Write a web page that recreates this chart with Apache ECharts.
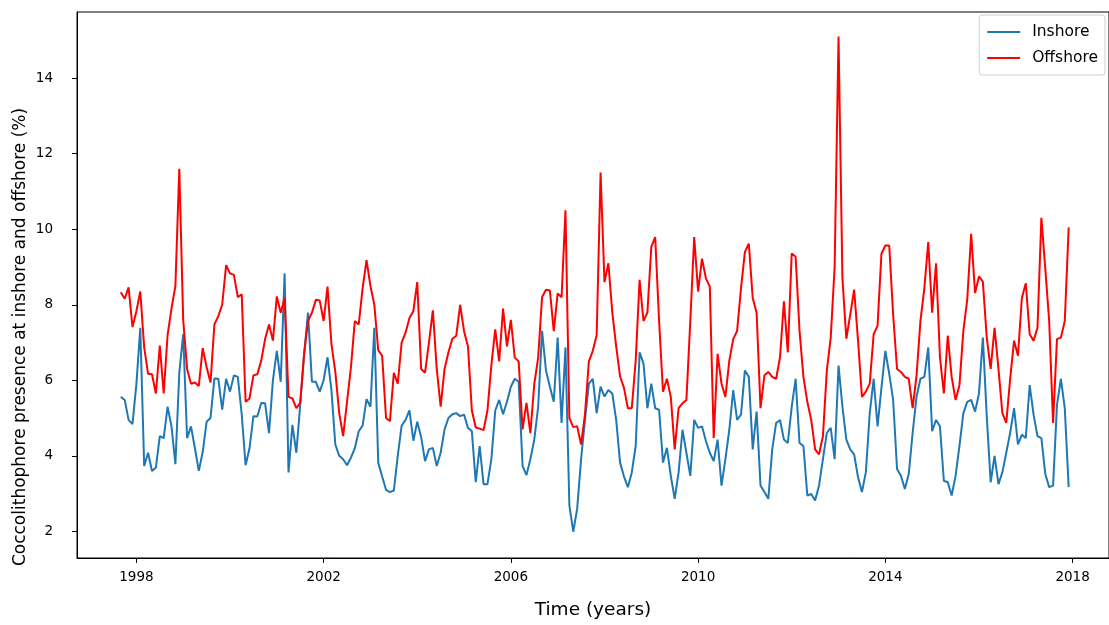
<!DOCTYPE html>
<html>
<head>
<meta charset="utf-8">
<script src="https://cdn.jsdelivr.net/npm/echarts@6/dist/echarts.min.js"></script>
<style>
  html, body { margin: 0; padding: 0; background: #fff; }
  #chart { width: 1109px; height: 625px; }
</style>
</head>
<body>
<div id="chart"></div>
<script>
// monthly series, first month Sep 1997
const startYear = 1997 + 8 / 12
const xTicks = [1998, 2002, 2006, 2010, 2014, 2018]
const yTicks = [2, 4, 6, 8, 10, 12, 14]
const yTitle = 'Coccolithophore presence at inshore and offshore (%)'

const inshore = [
  5.56, 5.48, 4.95, 4.84, 5.9, 7.39, 3.73, 4.08, 3.60, 3.69, 4.52, 4.47,
  5.30, 4.78, 3.78, 6.2, 7.22, 4.47, 4.78, 4.2, 3.6, 4.1, 4.9, 5.0,
  6.05, 6.04, 5.22, 6.04, 5.7, 6.13, 6.09, 5.1, 3.75, 4.2, 5.05, 5.04,
  5.40, 5.39, 4.6, 6.0, 6.78, 5.96, 8.83, 3.56, 4.82, 4.08, 5.35, 6.70,
  7.79, 5.96, 5.96, 5.70, 6.0, 6.61, 5.74, 4.3, 4.0, 3.91, 3.75, 3.95,
  4.2, 4.65, 4.8, 5.5, 5.3, 7.39, 3.82, 3.45, 3.1, 3.04, 3.08, 4.0,
  4.8, 4.95, 5.2, 4.4, 4.9, 4.5, 3.86, 4.17, 4.21, 3.73, 4.08, 4.7,
  5.0, 5.1, 5.13, 5.05, 5.09, 4.74, 4.65, 3.3, 4.26, 3.25, 3.25, 3.91,
  5.2, 5.48, 5.1, 5.43, 5.83, 6.04, 5.96, 3.73, 3.49, 3.91, 4.43, 5.3,
  7.31, 6.26, 5.83, 5.43, 7.13, 4.87, 6.87, 2.69, 1.99, 2.6, 3.91, 4.95,
  5.91, 6.04, 5.13, 5.83, 5.57, 5.74, 5.65, 4.95, 3.82, 3.45, 3.17, 3.56,
  4.26, 6.74, 6.44, 5.26, 5.91, 5.26, 5.22, 3.82, 4.21, 3.47, 2.86, 3.56,
  4.69, 4.08, 3.47, 4.95, 4.74, 4.78, 4.39, 4.08, 3.86, 4.43, 3.21, 3.91,
  4.69, 5.74, 4.95, 5.09, 6.26, 6.09, 4.17, 5.17, 3.21, 3.04, 2.86, 4.17,
  4.87, 4.95, 4.43, 4.34, 5.30, 6.04, 4.34, 4.26, 2.95, 2.99, 2.82, 3.21,
  3.91, 4.61, 4.74, 3.91, 6.39, 5.30, 4.43, 4.17, 4.04, 3.43, 3.04, 3.56,
  5.13, 6.04, 4.78, 5.8, 6.78, 6.17, 5.48, 3.65, 3.47, 3.12, 3.52, 4.61,
  5.57, 6.04, 6.09, 6.87, 4.65, 4.95, 4.78, 3.34, 3.30, 2.95, 3.47, 4.26,
  5.13, 5.43, 5.48, 5.17, 5.65, 7.13, 5.04, 3.30, 4.0, 3.25, 3.56, 4.08,
  4.61, 5.26, 4.30, 4.56, 4.47, 5.87, 5.09, 4.52, 4.47, 3.52, 3.17, 3.21,
  5.35, 6.04, 5.26, 3.17
]

const offshore = [
  8.33, 8.16, 8.46, 7.41, 7.83, 8.35, 6.87, 6.17, 6.16, 5.65, 6.92, 5.65,
  7.2, 7.9, 8.5, 11.6, 7.6, 6.3, 5.91, 5.94, 5.85, 6.85, 6.35, 5.94,
  7.48, 7.70, 8.0, 9.05, 8.83, 8.79, 8.2, 8.28, 5.43, 5.52, 6.13, 6.16,
  6.52, 7.09, 7.48, 7.05, 8.22, 7.79, 8.18, 5.56, 5.52, 5.26, 5.41, 6.70,
  7.57, 7.79, 8.13, 8.11, 7.57, 8.48, 6.96, 6.22, 5.13, 4.52, 5.43, 6.35,
  7.57, 7.48, 8.44, 9.18, 8.5, 8.0, 6.8, 6.65, 5.0, 4.92, 6.2, 5.91,
  7.0, 7.26, 7.65, 7.83, 8.6, 6.3, 6.2, 7.0, 7.85, 6.3, 5.3, 6.3,
  6.74, 7.1, 7.18, 8.0, 7.3, 6.9, 5.2, 4.75, 4.72, 4.68, 5.2, 6.4,
  7.35, 6.5, 7.9, 6.9, 7.6, 6.6, 6.5, 4.7, 5.4, 4.6, 5.9, 6.6,
  8.2, 8.4, 8.38, 7.3, 8.3, 8.2, 10.5, 5.0, 4.76, 4.78, 4.3, 5.1,
  6.5, 6.78, 7.2, 11.5, 8.6, 9.1, 7.8, 6.9, 6.1, 5.8, 5.26, 5.26,
  6.52, 8.66, 7.57, 7.79, 9.53, 9.79, 7.57, 5.70, 6.04, 5.56, 4.17, 5.26,
  5.39, 5.48, 7.57, 9.79, 8.35, 9.22, 8.7, 8.48, 4.47, 6.70, 5.91, 5.56,
  6.52, 7.09, 7.31, 8.44, 9.40, 9.62, 8.18, 7.79, 5.26, 6.13, 6.22, 6.09,
  6.04, 6.61, 8.09, 6.74, 9.36, 9.27, 7.31, 6.09, 5.43, 4.95, 4.17, 4.04,
  4.52, 6.26, 7.13, 9.0, 15.1, 8.7, 7.1, 7.74, 8.4, 7.05, 5.56, 5.7,
  5.91, 7.22, 7.44, 9.35, 9.57, 9.57, 7.74, 6.30, 6.22, 6.09, 6.04, 5.26,
  6.13, 7.57, 8.44, 9.66, 7.79, 9.10, 6.61, 5.65, 7.18, 6.09, 5.48, 5.87,
  7.31, 8.14, 9.88, 8.31, 8.75, 8.61, 7.13, 6.30, 7.39, 6.30, 5.13, 4.87,
  6.04, 7.05, 6.65, 8.18, 8.57, 7.22, 7.05, 7.39, 10.3, 8.96, 7.57, 4.87,
  7.09, 7.13, 7.57, 10.05
]

const toPoints = (arr) => arr.map((v, i) => [startYear + i / 12, v])

const chart = echarts.init(document.getElementById('chart'))
const option = {
  animation: false,
  backgroundColor: '#fff',
  textStyle: { fontFamily: 'DejaVu Sans' },
  grid: {
    left: 77, top: 12, width: 1034, height: 553,
    show: true, borderColor: '#000', borderWidth: 1
  },
  legend: {
    orient: 'vertical',
    right: 4, top: 15,
    padding: [9, 7, 9, 8],
    itemGap: 10,
    itemWidth: 33, itemHeight: 2,
    icon: 'rect',
    borderColor: '#d0d0d0', borderWidth: 1, borderRadius: 3,
    backgroundColor: 'rgba(255,255,255,0.8)',
    textStyle: { fontSize: 15.5, color: '#000', fontFamily: 'DejaVu Sans', padding: [0, 0, 0, 7] },
    data: ['Inshore', 'Offshore']
  },
  // y title drawn as text so it can sit where the reference has it
  graphic: [{
    type: 'text',
    x: 21, y: 337,
    rotation: Math.PI / 2,
    style: {
      text: yTitle,
      fontSize: 17, fontFamily: 'DejaVu Sans', fill: '#000',
      align: 'center', verticalAlign: 'middle'
    }
  }],
  xAxis: {
    type: 'value',
    min: 1996.7313, max: 2018.778,
    name: 'Time (years)',
    nameLocation: 'middle',
    nameGap: 43,
    nameTextStyle: { fontSize: 18.5, color: '#000' },
    splitLine: { show: false },
    axisLine: { lineStyle: { color: '#000' } },
    axisTick: { customValues: xTicks, length: 5, lineStyle: { color: '#000' } },
    axisLabel: { customValues: xTicks, fontSize: 13.5, color: '#000', margin: 12, formatter: v => String(v) }
  },
  yAxis: {
    type: 'value',
    min: 1.294, max: 15.752,
    splitLine: { show: false },
    axisLine: { lineStyle: { color: '#000' } },
    axisTick: { customValues: yTicks, length: 5, lineStyle: { color: '#000' } },
    axisLabel: { customValues: yTicks, fontSize: 13.5, color: '#000', margin: 24, formatter: v => String(v) }
  },
  series: [
    {
      name: 'Inshore', type: 'line', data: toPoints(inshore),
      showSymbol: false, symbol: 'none',
      lineStyle: { color: '#1f77b4', width: 2 }, itemStyle: { color: '#1f77b4' }
    },
    {
      name: 'Offshore', type: 'line', data: toPoints(offshore),
      showSymbol: false, symbol: 'none',
      lineStyle: { color: '#ff0000', width: 2 }, itemStyle: { color: '#ff0000' }
    }
  ]
}
chart.setOption(option)
</script>
</body>
</html>
